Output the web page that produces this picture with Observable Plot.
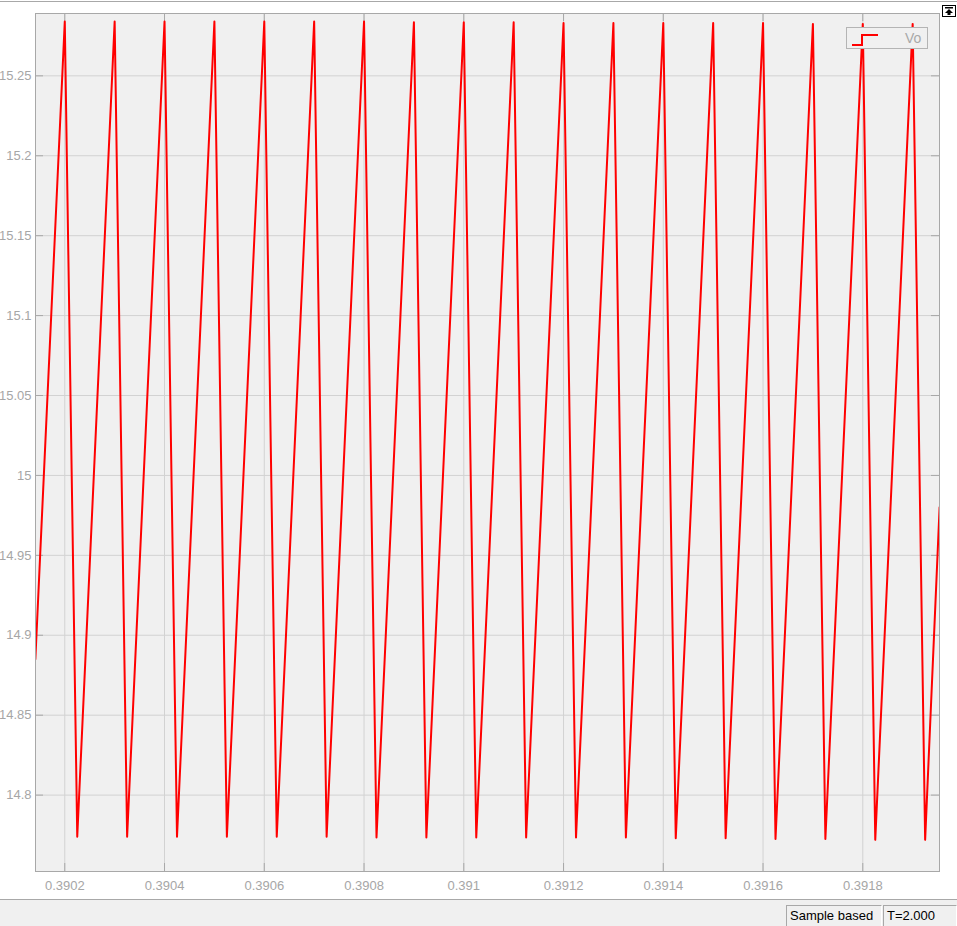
<!DOCTYPE html>
<html>
<head>
<meta charset="utf-8">
<script src="https://cdn.jsdelivr.net/npm/d3@7"></script>
<script src="https://cdn.jsdelivr.net/npm/@observablehq/plot@0.6"></script>
<style>
  html, body { margin: 0; padding: 0; background: #ffffff; }
  #wrap { position: relative; width: 957px; height: 926px; overflow: hidden; font-family: "Liberation Sans", Arial, sans-serif; }
  #chart { position: absolute; left: 0; top: 0; }
  #topline { position: absolute; left: 0; top: 1px; width: 957px; height: 1px; background: #a8a8a8; }
  #btn { position: absolute; left: 942px; top: 5px; }
  #legend { position: absolute; left: 846px; top: 27px; width: 80px; height: 20px; border: 1px solid #b4b4b4; background: #f0f0f0; }
  #legend svg { position: absolute; left: 4px; top: 5px; }
  #legend span { position: absolute; left: 58px; top: 2px; font-size: 14px; color: #a8a8a8; }
  #status { position: absolute; left: 0; top: 899px; width: 957px; height: 27px; background: #f0f0f0; border-top: 1px solid #a8a8a8; box-sizing: border-box; }
  .cell { position: absolute; top: 5px; height: 21px; box-sizing: border-box; border: 1px solid #a8a8a8; border-right-color: #ffffff; border-bottom: none; font-size: 13px; color: #000; padding-left: 3px; line-height: 20px; }
</style>
</head>
<body>
<div id="wrap">
  <div id="chart"></div>
  <div id="topline"></div>
  <svg id="btn" width="14" height="12" viewBox="0 0 14 12">
    <rect x="0.5" y="0.5" width="13" height="11" fill="#ffffff" stroke="#000" stroke-width="1"/>
    <rect x="3" y="2" width="8" height="1.5" fill="#000"/>
    <path d="M7 4 L11 8 L8.5 8 L8.5 10 L5.5 10 L5.5 8 L3 8 Z" fill="#000"/>
  </svg>
  <div id="legend">
    <svg width="30" height="14" viewBox="0 0 30 14">
      <path d="M1 12 L11 12 L11 2 L27 2" fill="none" stroke="#ff0000" stroke-width="2"/>
    </svg>
    <span>Vo</span>
  </div>
  <div id="status">
    <div class="cell" style="left:786px;width:96px;">Sample based</div>
    <div class="cell" style="left:883px;width:74px;">T=2.000</div>
  </div>
</div>
<script>
// Start and end samples of the visible window
const startPoint = { t: 0.390141, v: 14.885 };
const endPoint   = { t: 0.391954, v: 14.98 };

// Peak instants and values (Vo)
const peakTimes = [0.3902, 0.3903, 0.3904, 0.3905, 0.3906, 0.3907, 0.3908, 0.3909, 0.391,
                   0.3911, 0.3912, 0.3913, 0.3914, 0.3915, 0.3916, 0.3917, 0.3918, 0.3919];
const peakValues = [15.284, 15.284, 15.284, 15.284, 15.284, 15.284, 15.284, 15.2835, 15.2835,
                    15.2835, 15.283, 15.283, 15.283, 15.283, 15.283, 15.2825, 15.2825, 15.2825];

// Trough instants and values (Vo)
const troughTimes = [0.390225, 0.390325, 0.390425, 0.390525, 0.390625, 0.390725, 0.390825, 0.390925, 0.391025,
                     0.391125, 0.391225, 0.391325, 0.391425, 0.391525, 0.391625, 0.391725, 0.391825, 0.391925];
const troughValues = [14.774, 14.774, 14.774, 14.774, 14.774, 14.774, 14.7735, 14.7735, 14.7735,
                      14.7735, 14.7735, 14.7735, 14.773, 14.773, 14.7725, 14.7725, 14.772, 14.772];

// Axis ticks and labels
const xTicks = [0.3902, 0.3904, 0.3906, 0.3908, 0.391, 0.3912, 0.3914, 0.3916, 0.3918];
const xTickLabels = ["0.3902", "0.3904", "0.3906", "0.3908", "0.391", "0.3912", "0.3914", "0.3916", "0.3918"];
const yTicks = [14.8, 14.85, 14.9, 14.95, 15, 15.05, 15.1, 15.15, 15.2, 15.25];
const yTickLabels = ["14.8", "14.85", "14.9", "14.95", "15", "15.05", "15.1", "15.15", "15.2", "15.25"];

// Build the waveform table
const series = [startPoint];
for (let i = 0; i < peakTimes.length; i++) {
  series.push({ t: peakTimes[i], v: peakValues[i] });
  series.push({ t: troughTimes[i], v: troughValues[i] });
}
series.push(endPoint);

const gridColor = "#d2d2d2";
const axisColor = "#a8a8a8";
const labelColor = "#a6a6a6";

const chart = Plot.plot({
  width: 957,
  height: 899,
  marginLeft: 35,
  marginRight: 18,
  marginTop: 13,
  marginBottom: 28,
  style: { background: "#ffffff", fontFamily: "Liberation Sans, Arial, sans-serif", overflow: "visible" },
  x: { domain: [0.3901413, 0.3919538], label: null },
  y: { domain: [14.7522, 15.289], label: null },
  marks: [
    Plot.frame({ fill: "#f0f0f0", stroke: null }),
    Plot.gridX(xTicks, { stroke: gridColor, strokeOpacity: 1 }),
    Plot.gridY(yTicks, { stroke: gridColor, strokeOpacity: 1 }),
    // inward tick marks on all four sides
    Plot.tickY(yTicks, { y: d => d, stroke: axisColor, insetRight: 896 }),
    Plot.tickY(yTicks, { y: d => d, stroke: axisColor, insetLeft: 896 }),
    Plot.tickX(xTicks, { x: d => d, stroke: axisColor, insetTop: 850 }),
    Plot.tickX(xTicks, { x: d => d, stroke: axisColor, insetBottom: 850 }),
    Plot.line(series, { x: "t", y: "v", stroke: "#ff0000", strokeWidth: 2, clip: "frame" }),
    Plot.frame({ stroke: axisColor, strokeWidth: 1 }),
    Plot.axisX(xTicks, {
      label: null, tickSize: 0, tickPadding: 9, fontSize: 13, fill: labelColor,
      tickFormat: d => xTickLabels[xTicks.indexOf(d)]
    }),
    Plot.axisY(yTicks, {
      label: null, tickSize: 0, tickPadding: 4, fontSize: 13, fill: labelColor,
      tickFormat: d => yTickLabels[yTicks.indexOf(d)]
    })
  ]
});
document.getElementById("chart").appendChild(chart);
</script>
</body>
</html>
